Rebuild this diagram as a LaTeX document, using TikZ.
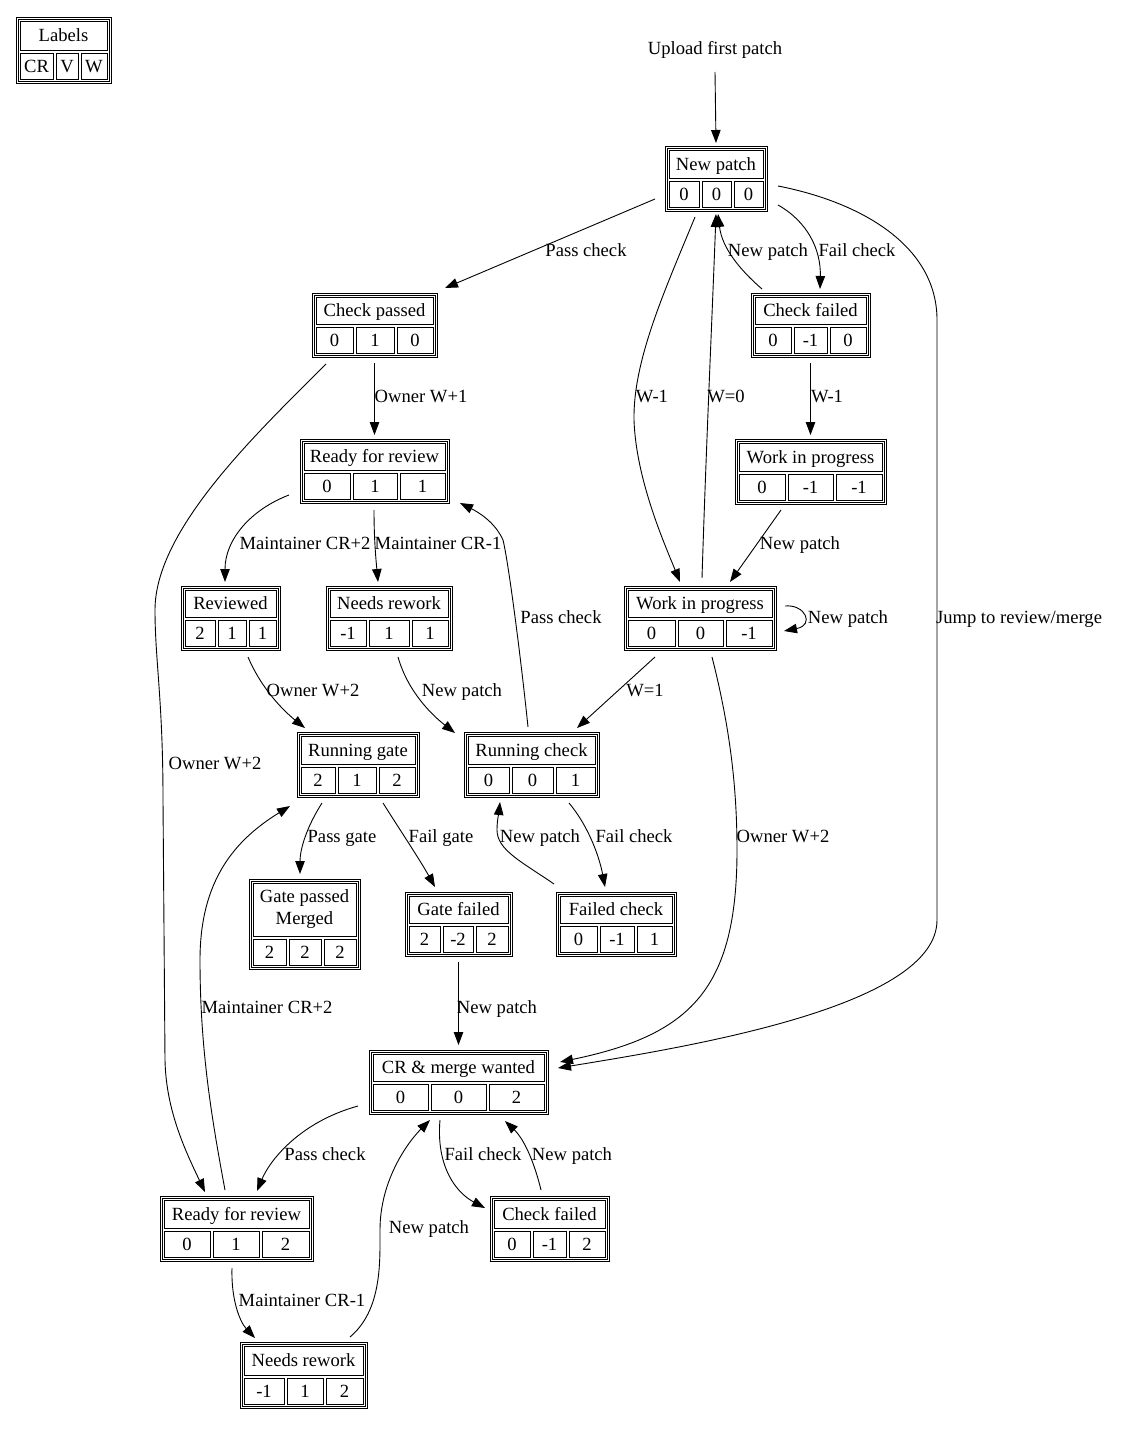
\documentclass[tikz,border=0pt]{standalone}
\usepackage{fontspec}
\setmainfont{Liberation Serif}
\usetikzlibrary{arrows.meta,calc,fit}
\tikzset{
  tb/.style={draw=black,line width=0.9bp},
  txt/.style={inner sep=0pt,text height=12.5bp,text depth=0pt,font=\fontsize{18.6bp}{22bp}\selectfont},
  lbl/.style={txt},
  conn/.style={draw=black,line width=0.9bp,-{Triangle[length=13bp,width=9.5bp]}},
}
% #1 name, #2 x1, #3 y1, #4 x2, #5 y2, #6 b1, #7 b2, #8 title, #9 {{v1}{v2}{v3}}
\newcommand\gvtable[9]{%
  \def\gvx{#2}\def\gvy{#3}\def\gvX{#4}\def\gvY{#5}\def\gvb{#6}\def\gvc{#7}%
  \pgfmathsetmacro\gvm{#5-33}%
  \draw[tb] (#2,#3) rectangle (#4,#5);
  \draw[tb] ({#2+2},{#3+2}) rectangle ({#4-2},{#5-2});
  \draw[tb] ({#2+4},{#3+4}) rectangle ({#4-4},\gvm);
  \draw[tb] ({#2+4},{\gvm+3}) rectangle (#6,{#5-4});
  \draw[tb] ({#6+3},{\gvm+3}) rectangle (#7,{#5-4});
  \draw[tb] ({#7+3},{\gvm+3}) rectangle ({#4-4},{#5-4});
  \node[txt] (#1-title) at ({(#2+#4)/2},{(#3+4+\gvm)/2}) {#8};
  \gvvals{#1}#9%
  \coordinate (#1-nw) at (#2,#3);
  \coordinate (#1-se) at (#4,#5);
  \node[fit=(#1-nw)(#1-se),inner sep=0pt] (#1) {};
}
\newcommand\gvvals[4]{%
  \node[txt] (#1-a) at ({(\gvx+4+\gvb)/2},{\gvY-17}) {#2};
  \node[txt] (#1-b) at ({(\gvb+3+\gvc)/2},{\gvY-17}) {#3};
  \node[txt] (#1-c) at ({(\gvc+3+\gvX-4)/2},{\gvY-17}) {#4};
}
\begin{document}
\begin{tikzpicture}[x=1bp,y=-1bp]
\useasboundingbox[fill=white] (0,0) rectangle (1131,1441);

\gvtable{lab}{16}{17}{111}{83}{53}{78}{Labels}{{CR}{V}{W}}
\gvtable{np}{665}{146}{767}{211}{699}{731}{New patch}{{0}{0}{0}}
\gvtable{cp}{312}{293}{437}{357}{353}{394}{Check passed}{{0}{1}{0}}
\gvtable{cfa}{751}{293}{870}{357}{791}{827}{Check failed}{{0}{-1}{0}}
\gvtable{rra}{300}{439}{449}{503}{350}{397}{Ready for review}{{0}{1}{1}}
\gvtable{wipa}{735}{439}{886}{504}{785}{833}{Work in progress}{{0}{-1}{-1}}
\gvtable{rev}{181}{586}{280}{650}{215}{246}{Reviewed}{{2}{1}{1}}
\gvtable{nra}{326}{586}{452}{650}{366}{409}{Needs rework}{{-1}{1}{1}}
\gvtable{wipb}{624}{586}{776}{650}{675}{723}{Work in progress}{{0}{0}{-1}}
\gvtable{rg}{297}{732}{419}{797}{335}{376}{Running gate}{{2}{1}{2}}
\gvtable{rc}{464}{732}{599}{797}{509}{553}{Running check}{{0}{0}{1}}
\gvtable{gp}{249}{879}{360}{969}{286}{321}{}{{2}{2}{2}}
\node[txt] (gp-l1) at (304.5,896) {Gate passed};
\node[txt] (gp-l2) at (304.5,918) {Merged};
\gvtable{gf}{405}{892}{512}{956}{440}{473}{Gate failed}{{2}{-2}{2}}
\gvtable{fc}{556}{892}{676}{956}{597}{634}{Failed check}{{0}{-1}{1}}
\gvtable{cm}{369}{1050}{548}{1114}{428}{486}{CR \& merge wanted}{{0}{0}{2}}
\gvtable{rrb}{160}{1196}{313}{1261}{210}{259}{Ready for review}{{0}{1}{2}}
\gvtable{cfb}{490}{1196}{609}{1261}{530}{566}{Check failed}{{0}{-1}{2}}
\gvtable{nrb}{240}{1342}{367}{1408}{284}{323}{Needs rework}{{-1}{1}{2}}

\node[txt] (up) at (715,48) {Upload first patch};

% edges
\draw[conn] ($(up)+(0,24)$) -- ($(np)+(0,-35.5)$);
\draw[conn] ($(np)+(-61,20.5)$) -- ($(cp)+(70.5,-37)$);
\node[lbl] (l2) at (586,250) {Pass check};
\draw[conn] ($(np)+(-21,38.5)$) .. controls (665,290) and (633,360) .. (634,420) .. controls (636,480) and (665,545) .. ($(wipb)+(-20,-36)$);
\node[lbl] (l3) at (652,396) {W-1};
\draw[conn] ($(wipb)+(2,-40)$) .. controls (706,450) and (712,320) .. ($(np)+(0,35.5)$);
\node[lbl] (l4) at (726,396) {W=0};
\draw[conn] ($(cfa)+(-48.5,-36)$) .. controls (740,270) and (722,248) .. ($(np)+(2,35.5)$);
\node[lbl] (l5) at (768,250) {New patch};
\draw[conn] ($(np)+(62,26.5)$) .. controls (808,222) and (821,250) .. ($(cfa)+(9.5,-36)$);
\node[lbl] (l6) at (857,250) {Fail check};
\draw[conn] ($(np)+(62,7.5)$) .. controls (860,202) and (937,245) .. (937,320) -- (937,920) .. controls (937,1005) and (700,1045) .. ($(cm)+(99.5,-14)$);
\node[lbl] (l7) at (1019,617) {Jump to review/merge};
\draw[conn] ($(cp)+(0,38)$) -- ($(rra)+(0,-36)$);
\node[lbl] (l8) at (421,396) {Owner W+1};
\draw[conn] ($(cp)+(-48.5,39)$) .. controls (255,435) and (155,530) .. (155,610) .. controls (155,660) and (163,700) .. (163,800) -- (165,1060) .. controls (166,1110) and (185,1150) .. ($(rrb)+(-31.5,-36.5)$);
\node[lbl] (l9) at (215,763) {Owner W+2};
\draw[conn] ($(cfa)+(0,38)$) -- ($(wipa)+(0,-36.5)$);
\node[lbl] (l10) at (827,396) {W-1};
\draw[conn] ($(wipa)+(-29.5,38.5)$) -- ($(wipb)+(30,-36)$);
\node[lbl] (l11) at (800,543) {New patch};
\draw[conn] ($(rra)+(-85.5,24)$) .. controls (250,510) and (225,540) .. ($(rev)+(-5.5,-36)$);
\node[lbl] (l12) at (305,543) {Maintainer CR+2};
\draw[conn] ($(rra)+(-0.5,39)$) .. controls (374,540) and (376,560) .. ($(nra)+(-11,-36)$);
\node[lbl] (l13) at (438,543) {Maintainer CR-1};
\draw[conn] ($(rc)+(-3.5,-37.5)$) .. controls (520,650) and (508,560) .. (503,540) .. controls (495,522) and (478,512) .. ($(rra)+(85.5,32)$);
\node[lbl] (l14) at (561,617) {Pass check};
\draw[conn] ($(wipb)+(85,-12)$) .. controls (805,604) and (815,625) .. ($(wipb)+(84,13)$);
\node[lbl] (l15) at (848,617) {New patch};
\draw[conn] ($(wipb)+(-45,39)$) -- ($(rc)+(45.5,-36.5)$);
\node[lbl] (l16) at (645,690) {W=1};
\draw[conn] ($(wipb)+(12,39)$) .. controls (728,720) and (737,780) .. (737,850) .. controls (737,990) and (690,1035) .. ($(cm)+(101.5,-20)$);
\node[lbl] (l17) at (783,836) {Owner W+2};
\draw[conn] ($(rev)+(17.5,39)$) .. controls (262,690) and (285,712) .. ($(rg)+(-53,-36.5)$);
\node[lbl] (l18) at (313,690) {Owner W+2};
\draw[conn] ($(nra)+(9,39)$) .. controls (408,692) and (432,715) .. ($(rc)+(-76.5,-31.5)$);
\node[lbl] (l19) at (462,690) {New patch};
\draw[conn] ($(rg)+(-36,38.5)$) .. controls (306,828) and (300,850) .. ($(gp)+(-4.5,-50)$);
\node[lbl] (l20) at (342,836) {Pass gate};
\draw[conn] ($(rg)+(25,38.5)$) .. controls (400,830) and (420,860) .. ($(gf)+(-23.5,-37)$);
\node[lbl] (l21) at (441,836) {Fail gate};
\draw[conn] ($(rc)+(37.5,38.5)$) .. controls (590,828) and (600,860) .. ($(fc)+(-11,-37)$);
\node[lbl] (l22) at (634,836) {Fail check};
\draw[conn] ($(fc)+(-62,-40)$) .. controls (522,862) and (497,850) .. (497,830) .. controls (497,820) and (499,812) .. ($(rc)+(-31.5,37.5)$);
\node[lbl] (l23) at (540,836) {New patch};
\draw[conn] ($(gf)+(0,38)$) -- ($(cm)+(0,-37)$);
\node[lbl] (l24) at (497,1007) {New patch};
\draw[conn] ($(rrb)+(-11.5,-38.5)$) .. controls (212,1120) and (200,1050) .. (200,960) .. controls (200,880) and (235,840) .. ($(rg)+(-68,41.5)$);
\node[lbl] (l25) at (267,1007) {Maintainer CR+2};
\draw[conn] ($(cm)+(-100.5,24)$) .. controls (300,1122) and (270,1160) .. ($(rrb)+(20.5,-37.5)$);
\node[lbl] (l26) at (325,1154) {Pass check};
\draw[conn] ($(cm)+(-18.5,38)$) .. controls (436,1165) and (455,1192) .. ($(cfb)+(-64.5,-20.5)$);
\node[lbl] (l27) at (483,1154) {Fail check};
\draw[conn] ($(cfb)+(-8.5,-38.5)$) .. controls (535,1165) and (525,1140) .. ($(cm)+(46.5,39)$);
\node[lbl] (l28) at (572,1154) {New patch};
\draw[conn] ($(rrb)+(-4.5,39.5)$) .. controls (231,1300) and (240,1322) .. ($(nrb)+(-48.5,-37)$);
\node[lbl] (l29) at (302,1300) {Maintainer CR-1};
\draw[conn] ($(nrb)+(46.5,-38)$) .. controls (382,1310) and (380,1262) .. (380,1230) .. controls (380,1180) and (408,1142) .. ($(cm)+(-28.5,38)$);
\node[lbl] (l30) at (429,1227) {New patch};
\end{tikzpicture}
\end{document}
